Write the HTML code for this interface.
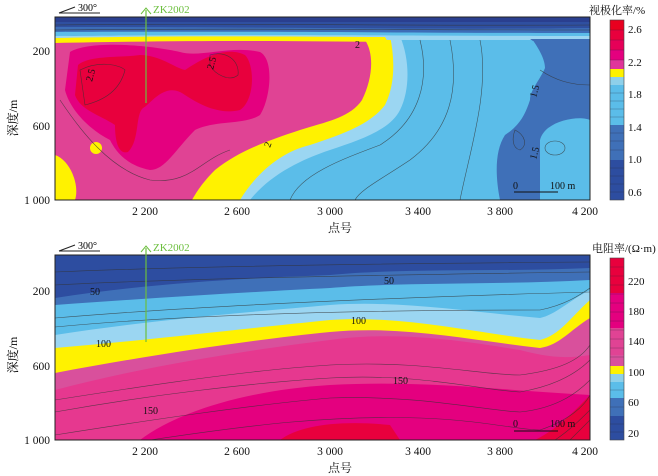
<!DOCTYPE html><html><head><style>body{margin:0;background:#fff}svg{display:block}text{font-family:"Liberation Serif","Noto Serif CJK SC",serif}</style></head><body>
<svg width="658" height="476" viewBox="0 0 658 476" xmlns="http://www.w3.org/2000/svg">
<defs>
<clipPath id="c1"><rect x="55" y="17" width="535" height="183"/></clipPath>
<clipPath id="c2"><rect x="55" y="255" width="535" height="185"/></clipPath>
</defs>
<g clip-path="url(#c1)">
<rect x="55" y="17" width="535" height="183" fill="#3f70b8"/>
<path d="M380,36 L530,36 C540,50 545,60 545,68 C540,80 530,90 530,100 C525,115 520,125 505,135 C495,150 495,175 500,200 L55,200 Z" fill="#5bbde9"/>
<path d="M540,200 L540,140 C545,120 580,115 590,120 L590,200 Z" fill="#5bbde9"/>
<path d="M55,36 L400,36 C410,60 410,90 400,110 C390,130 360,140 330,150 C300,160 270,175 250,200 L55,200 Z" fill="#9bd6f2"/>
<path d="M55,36 L390,36 C395,60 395,85 385,105 C370,125 340,135 310,145 C280,152 255,175 240,200 L55,200 Z" fill="#fff200"/>
<path d="M55,40 L365,40 C375,55 372,80 362,100 C350,118 325,122 300,130 C270,140 240,150 215,170 C200,185 195,195 192,200 L55,200 Z" fill="#e04394"/>
<path d="M55,155 C70,160 80,185 75,200 L55,200 Z" fill="#fff200"/>
<ellipse cx="96" cy="148" rx="6" ry="6" fill="#fff200"/>
<path d="M70,52 C90,40 150,45 180,52 C200,58 230,45 260,52 C275,60 270,100 260,115 C245,125 215,120 195,130 C175,150 165,170 150,170 C125,165 115,150 110,140 C90,130 70,110 65,90 Z" fill="#e4007f"/>
<path d="M78,65 C90,55 120,58 140,55 C160,55 175,68 185,70 C200,60 225,45 245,55 C255,65 255,100 240,110 C220,115 200,105 185,95 C165,80 150,105 143,108 C135,115 140,140 128,152 C118,155 115,140 115,125 C100,115 80,110 75,95 Z" fill="#e8003d"/>
<rect x="55" y="17" width="535" height="6" fill="#2a3f8f"/>
<path d="M55,22 L590,22 L590,28 C450,30 300,27 55,27 Z" fill="#2f4fa0"/>
<path d="M55,27 C300,28 450,30 590,28 L590,33 C400,33 300,31 55,32 Z" fill="#3d6db8"/>
<path d="M55,32 C300,31 400,33 590,33 L590,36.5 C400,36.5 300,35 55,36 Z" fill="#5bbde9"/>
<path d="M55,36 C300,34 400,36 590,36 L590,40 L55,40 Z" fill="#9bd6f2"/>
<path d="M55,38 C200,35 300,37 385,37 L388,42 C300,41 200,40 55,43 Z" fill="#fff200"/>
<path d="M530,39 L590,39 L590,41 L533,41 Z" fill="#3f70b8"/>
<g fill="none" stroke="#333" stroke-width="0.6" opacity="0.75">
<path d="M55,25 C200,23 400,26 590,25"/><path d="M55,30 C200,28 400,30 590,30"/>
<path d="M80,70 C100,60 120,65 125,70 C120,90 105,100 85,105 Z"/>
<path d="M210,55 C225,50 240,60 238,75 C230,82 215,75 210,65 Z"/>
<path d="M420,40 C430,80 420,120 380,145 C340,160 300,175 290,200"/>
<path d="M450,40 C460,90 450,130 410,160 C380,180 360,190 355,200"/>
<path d="M480,40 C490,90 470,150 460,200"/>
<path d="M515,130 C525,135 528,145 520,150 C512,148 512,138 515,130 Z"/>
<ellipse cx="555" cy="148" rx="10" ry="7"/>
<path d="M540,70 C555,80 570,85 590,85"/>
<path d="M60,100 C80,130 110,170 150,180 C190,185 200,160 230,150"/>
</g>
</g>
<rect x="55" y="17" width="535" height="183" fill="none" stroke="#222" stroke-width="1"/>
<g font-size="10" fill="#111">
<text x="92" y="82" transform="rotate(-75 92 82)">2.5</text>
<text x="213" y="70" transform="rotate(-75 213 70)">2.5</text>
<text x="270" y="148" transform="rotate(-70 270 148)">2</text>
<text x="355" y="48">2</text>
<text x="536" y="98" transform="rotate(-75 536 98)">1.5</text>
<text x="536" y="160" transform="rotate(-75 536 160)">1.5</text>
<text x="513" y="189">0</text><text x="550" y="189">100 m</text>
</g>
<line x1="514" y1="192" x2="558" y2="192" stroke="#111"/>
<line x1="146" y1="10" x2="146" y2="103" stroke="#6cbf3e" stroke-width="1.2"/>
<path d="M141,14 L146,8 L151,14" fill="none" stroke="#6cbf3e"/>
<text x="153" y="13" font-size="11" fill="#6cbf3e">ZK2002</text>
<line x1="59" y1="13" x2="100" y2="13" stroke="#222"/><line x1="59" y1="13" x2="75" y2="7" stroke="#222"/>
<text x="78" y="11" font-size="10">300°</text>
<g font-size="11.5" fill="#111" text-anchor="end">
<text x="50" y="55">200</text><text x="50" y="130">600</text><text x="50" y="204">1 000</text>
</g>
<g font-size="11.5" fill="#111" text-anchor="middle">
<text x="145" y="215">2 200</text><text x="237" y="215">2 600</text><text x="330" y="215">3 000</text><text x="418" y="215">3 400</text><text x="500" y="215">3 800</text><text x="585" y="215">4 200</text>
<text x="340" y="232" font-size="12">点号</text>
<text x="340" y="472" font-size="12">点号</text>
</g>
<text x="17" y="118" font-size="12" transform="rotate(-90 17 118)" text-anchor="middle">深度/m</text>
<text x="17" y="355" font-size="12" transform="rotate(-90 17 355)" text-anchor="middle">深度/m</text>
<g>
<rect x="610" y="20" width="14" height="10" fill="#e8001f"/><rect x="610" y="30" width="14" height="10" fill="#e8003d"/><rect x="610" y="40" width="14" height="10" fill="#e60058"/><rect x="610" y="50" width="14" height="10" fill="#e4007f"/><rect x="610" y="60" width="14" height="10" fill="#e0359a"/>
<rect x="610" y="69" width="14" height="8" fill="#fff200"/>
<rect x="610" y="77" width="14" height="8" fill="#8ed0ea"/><rect x="610" y="85" width="14" height="40" fill="#5bbde9"/>
<rect x="610" y="125" width="14" height="35" fill="#3f70b8"/><rect x="610" y="160" width="14" height="40" fill="#2d4da0"/>
<g stroke="#223" stroke-width="0.4" opacity="0.6"><path d="M610,30h14M610,40h14M610,50h14M610,60h14M610,93h14M610,101h14M610,109h14M610,117h14M610,133h14M610,141h14M610,150h14M610,168h14M610,176h14M610,184h14M610,192h14"/></g>
<rect x="610" y="20" width="14" height="180" fill="none" stroke="#444" stroke-width="0.6"/>
</g>
<g font-size="11" fill="#111">
<text x="589" y="14" font-size="11">视极化率/%</text>
<text x="628" y="33">2.6</text><text x="628" y="66">2.2</text><text x="628" y="98">1.8</text><text x="628" y="131">1.4</text><text x="628" y="163">1.0</text><text x="628" y="196">0.6</text>
</g>
<g clip-path="url(#c2)">
<rect x="55" y="255" width="535" height="185" fill="#e4007f"/>
<path d="M55,255 L590,255 L590,395 C500,390 420,380 330,385 C250,390 180,410 140,440 L55,440 Z" fill="#e6388f"/>
<path d="M55,255 L590,255 L590,355 C560,360 540,355 520,350 C470,342 400,330 330,340 C250,350 150,365 55,390 Z" fill="#d9509c"/>
<path d="M55,255 L590,255 L590,318 C570,330 560,345 540,348 C470,340 400,325 330,332 C250,340 150,355 55,373 Z" fill="#fff200"/>
<path d="M55,255 L590,255 L590,300 C570,318 560,335 540,340 C470,332 400,315 330,320 C250,328 150,340 55,348 Z" fill="#9bd6f2"/>
<path d="M55,255 L590,255 L590,290 C570,300 555,315 540,318 C470,312 400,300 330,305 C250,312 150,320 55,335 Z" fill="#5bbde9"/>
<path d="M55,255 L590,255 L590,280 C500,285 400,282 330,288 C250,292 150,298 55,305 Z" fill="#3f70b8"/>
<path d="M55,255 L590,255 L590,268 C500,272 400,268 330,275 C250,278 150,283 55,298 Z" fill="#2d4da0"/>
<path d="M280,440 C300,425 340,420 390,425 L400,440 Z" fill="#e8003d"/>
<path d="M535,440 C560,428 580,405 590,395 L590,440 Z" fill="#e8003d"/>
<g fill="none" stroke="#333" stroke-width="0.6" opacity="0.75">
<path d="M55,272 C150,268 300,264 590,262"/><path d="M55,285 C150,280 300,276 590,272"/>
<path d="M55,318 C150,310 300,300 590,292"/><path d="M55,327 C150,318 300,310 540,310 C565,305 580,295 590,288"/>
<path d="M55,400 C150,385 250,370 330,365 C420,360 480,375 520,375 C560,370 580,360 590,345"/>
<path d="M55,412 C150,395 250,383 330,378 C420,373 480,390 520,392 C560,385 580,370 590,360"/>
<path d="M55,435 C150,420 250,405 330,398 C420,395 480,410 520,412 C560,408 580,390 590,380"/>
<path d="M150,440 C250,425 330,415 420,418 C480,420 520,430 540,430 C570,420 585,405 590,395"/>
<path d="M555,440 C570,430 582,418 590,410"/><path d="M570,440 C578,432 585,425 590,420"/>
</g>
</g>
<rect x="55" y="255" width="535" height="185" fill="none" stroke="#222" stroke-width="1"/>
<g font-size="10" fill="#111">
<text x="90" y="295">50</text><text x="384" y="284">50</text>
<text x="96" y="347">100</text><text x="351" y="324">100</text>
<text x="393" y="384">150</text><text x="143" y="414">150</text>
<text x="513" y="427">0</text><text x="550" y="427">100 m</text>
</g>
<line x1="514" y1="431" x2="558" y2="431" stroke="#111"/>
<line x1="146" y1="248" x2="146" y2="342" stroke="#6cbf3e" stroke-width="1.2"/>
<path d="M141,252 L146,246 L151,252" fill="none" stroke="#6cbf3e"/>
<text x="153" y="251" font-size="11" fill="#6cbf3e">ZK2002</text>
<line x1="59" y1="251" x2="100" y2="251" stroke="#222"/><line x1="59" y1="251" x2="75" y2="245" stroke="#222"/>
<text x="78" y="249" font-size="10">300°</text>
<g font-size="11.5" fill="#111" text-anchor="end">
<text x="50" y="295">200</text><text x="50" y="370">600</text><text x="50" y="444">1 000</text>
</g>
<g font-size="11.5" fill="#111" text-anchor="middle">
<text x="145" y="455">2 200</text><text x="237" y="455">2 600</text><text x="330" y="455">3 000</text><text x="418" y="455">3 400</text><text x="500" y="455">3 800</text><text x="585" y="455">4 200</text>
</g>
<g>
<rect x="610" y="258" width="14" height="70" fill="#e4007f"/><rect x="610" y="258" width="14" height="35" fill="#e8003d"/>
<rect x="610" y="328" width="14" height="38" fill="#e04394"/><rect x="610" y="355" width="14" height="11" fill="#d9509c"/>
<rect x="610" y="366" width="14" height="8" fill="#fff200"/>
<rect x="610" y="374" width="14" height="8" fill="#8ed0ea"/><rect x="610" y="382" width="14" height="16" fill="#5bbde9"/>
<rect x="610" y="398" width="14" height="18" fill="#3f70b8"/><rect x="610" y="416" width="14" height="24" fill="#2d4da0"/>
<g stroke="#223" stroke-width="0.4" opacity="0.6"><path d="M610,267h14M610,276h14M610,285h14M610,294h14M610,303h14M610,312h14M610,321h14M610,330h14M610,339h14M610,348h14M610,357h14M610,390h14M610,407h14M610,424h14M610,432h14"/></g>
<rect x="610" y="258" width="14" height="182" fill="none" stroke="#444" stroke-width="0.6"/>
</g>
<g font-size="11" fill="#111">
<text x="592" y="252">电阻率/(Ω·m)</text>
<text x="628" y="285">220</text><text x="628" y="315">180</text><text x="628" y="345">140</text><text x="628" y="376">100</text><text x="628" y="406">60</text><text x="628" y="437">20</text>
</g>
</svg>
</body></html>
